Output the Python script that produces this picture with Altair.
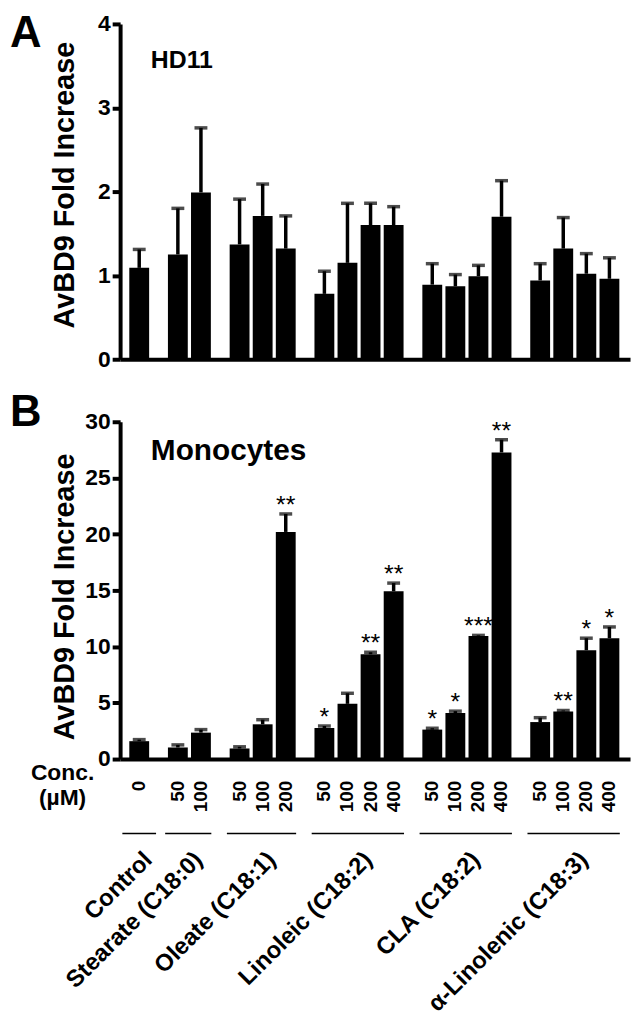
import altair as alt
import pandas as pd

# ---------------- data ----------------
groups = ["Control", "Stearate (C18:0)", "Oleate (C18:1)", "Linoleic (C18:2)",
          "CLA (C18:2)", "α-Linolenic (C18:3)"]
group_index = [0, 1, 1, 2, 2, 2, 3, 3, 3, 3, 4, 4, 4, 4, 5, 5, 5, 5]
conc = ["0", "50", "100", "50", "100", "200", "50", "100", "200", "400",
        "50", "100", "200", "400", "50", "100", "200", "400"]

hd11_mean = [1.09, 1.25, 1.99, 1.37, 1.71, 1.32, 0.78, 1.15, 1.60, 1.60,
             0.89, 0.87, 0.99, 1.70, 0.94, 1.32, 1.02, 0.96]
hd11_upper = [1.31, 1.80, 2.76, 1.91, 2.09, 1.71, 1.05, 1.86, 1.86, 1.82,
              1.14, 1.01, 1.12, 2.13, 1.14, 1.69, 1.26, 1.21]

mono_mean = [1.59, 1.03, 2.35, 0.94, 3.09, 20.2, 2.76, 4.91, 9.32, 14.92,
             2.62, 4.09, 10.94, 27.27, 3.29, 4.24, 9.68, 10.74]
mono_upper = [1.73, 1.26, 2.62, 1.09, 3.50, 21.8, 2.94, 5.85, 9.50, 15.65,
              2.74, 4.26, 11.00, 28.40, 3.68, 4.32, 10.75, 11.75]
mono_sig = ["", "", "", "", "", "**", "*", "", "**", "**",
            "*", "*", "***", "**", "", "**", "*", "*"]

# ---------------- layout helpers ----------------
GAP = 0.674     # extra space between groups (in bar steps)
HALF = 0.43     # half bar width (in bar steps)
pos = [i + GAP * g for i, g in enumerate(group_index)]

W = 514
HA = 338
HB = 340
FONT = "Liberation Sans"

xscale = alt.Scale(domain=[-0.828, pos[-1] + 0.893], nice=False, zero=False)


def frame(mean, upper, sig):
    return pd.DataFrame({
        "pos": pos,
        "x0": [p - HALF for p in pos],
        "x1": [p + HALF for p in pos],
        "base": [0] * len(pos),
        "mean": mean,
        "upper": upper,
        "sig": sig,
        "conc": conc,
    })


def one_text(t):
    return alt.Chart(pd.DataFrame({"t": [t]}))


def panel(df, ymax, ystep, height, title_y, letter, letter_y, name, name_y, name_size):
    base = alt.Chart(df)
    yaxis = alt.Axis(values=list(range(0, ymax + 1, ystep)), format="d",
                     title="AvBD9 Fold Increase", titleX=-56, titleY=title_y,
                     titleAngle=270, titleAlign="center", titleBaseline="middle",
                     titleFontSize=29, titleFontWeight="bold", titleFont=FONT,
                     titleColor="black")
    xaxis = alt.Axis(labels=False, ticks=False, title="", grid=False)
    bars = base.mark_rect(color="black").encode(
        x=alt.X("x0:Q", scale=xscale, axis=xaxis),
        x2="x1:Q",
        y=alt.Y("mean:Q", scale=alt.Scale(domain=[0, ymax], nice=False), axis=yaxis),
        y2="base:Q",
    )
    stems = base.mark_rule(color="black", strokeWidth=3.5).encode(
        x="pos:Q", y="mean:Q", y2="upper:Q")
    caps = base.mark_tick(color="black", orient="horizontal", size=13, thickness=3.5).encode(
        x="pos:Q", y="upper:Q")
    letter_t = one_text(letter).mark_text(
        fontSize=44, fontWeight="bold", font=FONT, align="left", baseline="alphabetic",
        color="black").encode(text="t:N", x=alt.value(-111), y=alt.value(letter_y))
    name_t = one_text(name).mark_text(
        fontSize=name_size, fontWeight="bold", font=FONT, align="left", baseline="alphabetic",
        color="black").encode(text="t:N", x=alt.value(31), y=alt.value(name_y))
    return [bars, stems, caps, letter_t, name_t], base


# ---------------- panel A ----------------
dfA = frame(hd11_mean, hd11_upper, [""] * len(pos))
layersA, baseA = panel(dfA, 4, 1, HA, 162, "A", 23, "HD11", 44, 25)
chartA = alt.layer(*layersA).properties(width=W, height=HA)

# ---------------- panel B ----------------
dfB = frame(mono_mean, mono_upper, mono_sig)
layersB, baseB = panel(dfB, 30, 5, HB, 176, "B", 4, "Monocytes", 39, 30)

stars = baseB.mark_text(fontSize=25, font=FONT, baseline="alphabetic", dy=-1,
                        color="black").encode(
    x="pos:Q", y="upper:Q", text="sig:N")

conc_labels = baseB.mark_text(angle=270, align="right", baseline="middle", fontSize=19,
                              fontWeight="bold", font=FONT, color="black").encode(
    x="pos:Q", y=alt.value(HB + 22), text="conc:N")

conc_t = one_text("Conc.").mark_text(fontSize=23, fontWeight="bold", font=FONT,
                                     align="center", baseline="alphabetic", color="black").encode(
    text="t:N", x=alt.value(-58), y=alt.value(HB + 21))
um_t = one_text("(µM)").mark_text(fontSize=23, fontWeight="bold", font=FONT,
                                  align="center", baseline="alphabetic", color="black").encode(
    text="t:N", x=alt.value(-58), y=alt.value(HB + 46))

# group lines and labels
g_start, g_end, g_mid = [], [], []
for g in range(len(groups)):
    ps = [p for p, gi in zip(pos, group_index) if gi == g]
    if len(ps) == 1:
        g_start.append(ps[0] - 0.73)
        g_end.append(ps[0] + 0.73)
    else:
        g_start.append(ps[0] - 0.55)
        g_end.append(ps[-1] + 0.45)
    g_mid.append((ps[0] + ps[-1]) / 2 + 0.62)
dfG = pd.DataFrame({"group": groups, "start": g_start, "end": g_end, "mid": g_mid})

g_rules = alt.Chart(dfG).mark_rule(color="black", strokeWidth=1.5).encode(
    x="start:Q", x2="end:Q", y=alt.value(HB + 75))
g_labels = alt.Chart(dfG).mark_text(angle=315, align="right", baseline="alphabetic",
                                    fontSize=24, fontWeight="bold", font=FONT,
                                    color="black").encode(
    x="mid:Q", y=alt.value(HB + 103), text="group:N")

chartB = alt.layer(*layersB, stars, conc_labels, conc_t, um_t, g_rules, g_labels).properties(
    width=W, height=HB)

chart = alt.vconcat(chartA, chartB, spacing=20).properties(
    padding={"left": 2, "top": 0, "right": 4, "bottom": 2}
).configure(font=FONT).configure_view(strokeWidth=0).configure_axis(
    labelFont=FONT, labelFontSize=23, labelFontWeight="bold", labelColor="black",
    domainColor="black", domainWidth=4, tickColor="black", tickWidth=4, tickSize=8,
    labelPadding=2, grid=False
)

chart.save("out.html", embed_options={"renderer": "svg", "actions": False})
